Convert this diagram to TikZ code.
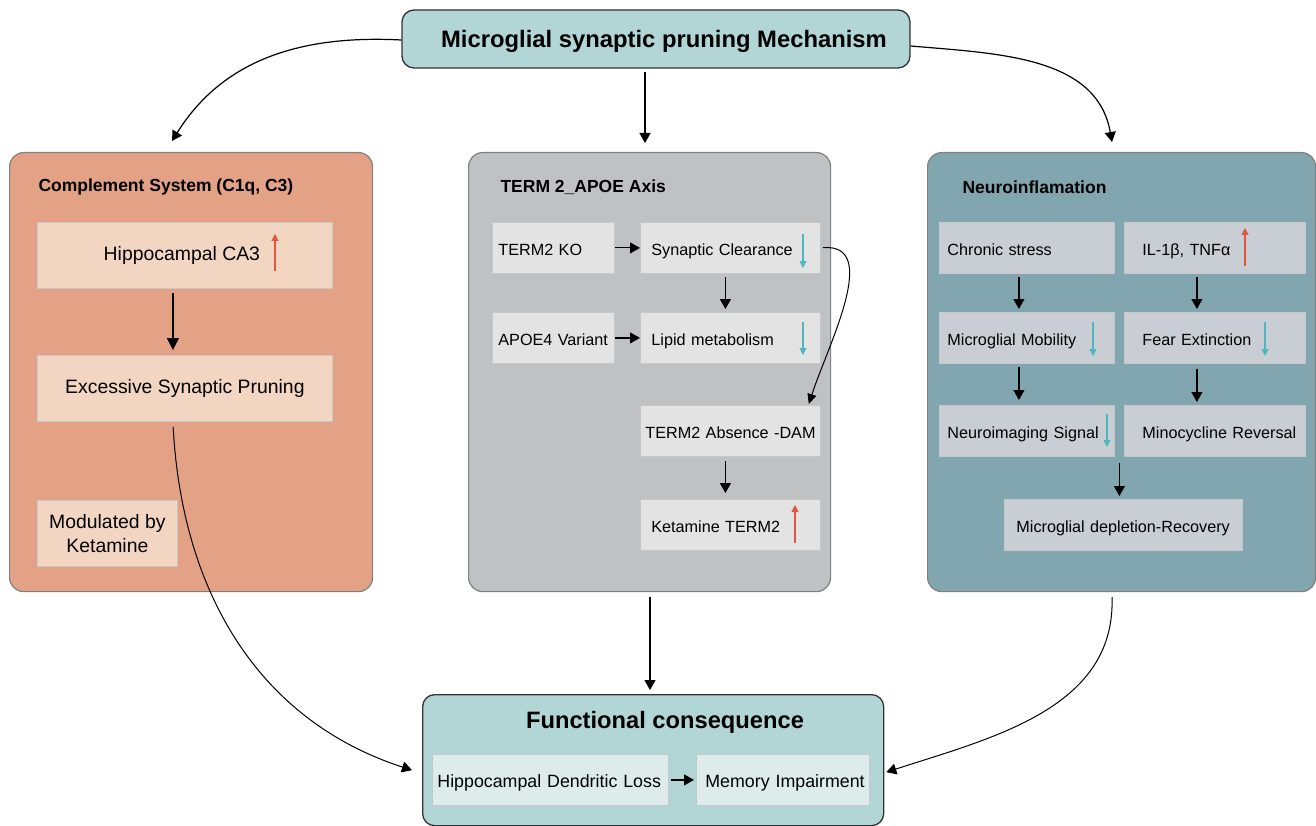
\documentclass[tikz,border=0pt]{standalone}
\usepackage{fontspec}
\setmainfont{Liberation Sans}
\usetikzlibrary{arrows.meta,calc}

\definecolor{headfill}{HTML}{B2D6D6}
\definecolor{compfill}{HTML}{E3A285}
\definecolor{compcell}{HTML}{F3D6C1}
\definecolor{axisfill}{HTML}{C0C1C3}
\definecolor{axiscell}{HTML}{E3E3E4}
\definecolor{inflfill}{HTML}{82A6AF}
\definecolor{inflcell}{HTML}{C9CED4}
\definecolor{consfill}{HTML}{B2D6D6}
\definecolor{conscell}{HTML}{DDEBEB}
\definecolor{uptick}{HTML}{E2553E}
\definecolor{downtick}{HTML}{4DB6BF}

\tikzset{
  headbox/.style={draw=black!80, line width=1.3pt, rounded corners=12pt, fill=headfill},
  panel/.style={draw=black!50, line width=1.2pt, rounded corners=14pt, anchor=north west},
  cell/.style n args={2}{draw=black!22, line width=0.8pt, anchor=north west,
    minimum height=51pt, text width=#1, inner xsep=0pt, align=left,
    text height=15pt, text depth=0pt,
    font=\fontsize{16.2}{19}\selectfont,
    execute at begin node={\hyphenpenalty=10000\exhyphenpenalty=10000\hspace*{#2}}},
  bigcell/.style={draw=black!22, line width=0.8pt, anchor=north west, fill=compcell,
    minimum height=66pt, font=\fontsize{19.4}{24}\selectfont},
  ptitle/.style={anchor=west, font=\fontsize{17.5}{20}\selectfont\bfseries},
  arr/.style={-{Triangle[width=11pt,length=10pt]}, line width=1.2pt},
  bigarr/.style={-{Triangle[width=12pt,length=12pt]}, line width=1.2pt},
  uparr/.style={-{Triangle[width=7pt,length=7pt]}, line width=1.1pt, uptick},
  dnarr/.style={-{Triangle[width=7pt,length=7pt]}, line width=1.1pt, downtick}
}

\begin{document}
\begin{tikzpicture}[x=1pt,y=-1pt]
\useasboundingbox (0,0) rectangle (1316,826);

% heading
\node[headbox, minimum width=508pt, minimum height=58pt,
  font=\fontsize{23.8}{28}\selectfont\bfseries, text depth=0pt] (mech) at (656,39)
  {\hspace*{16pt}Microglial synaptic pruning Mechanism};

% three panels
\node[panel, fill=compfill, minimum width=363pt, minimum height=439pt] (comp) at (9,152) {};
\node[panel, fill=axisfill, minimum width=362pt, minimum height=439pt] (axis) at (468,152) {};
\node[panel, fill=inflfill, minimum width=388pt, minimum height=439pt] (infl) at (927,152) {};

\node[ptitle] (comptitle) at (35,187) {Complement System (C1q, C3)};
\node[ptitle] (axistitle) at (497,187) {TERM 2\_APOE Axis};
\node[ptitle] (infltitle) at (959,187) {Neuroinflamation};

% complement system
\node[bigcell, minimum width=295pt] (ca3) at (37,222) {Hippocampal CA3\hspace*{6pt}};
\node[bigcell, minimum width=295pt] (prune) at (37,355) {Excessive Synaptic Pruning};
\node[bigcell, minimum width=140pt, align=center] (ketmod) at (37,500) {Modulated by\\Ketamine};
\draw[uparr] (275,271) -- (275,234);
\draw[bigarr, shorten <=4pt, shorten >=5pt] ([xshift=-12pt]ca3.south) -- ([xshift=-12pt]prune.north);

% TERM2 / APOE axis
\node[cell={122pt}{6pt}, fill=axiscell] (ko) at (492,222) {TERM2 KO};
\node[cell={180pt}{11pt}, fill=axiscell] (clear) at (640,222) {Synaptic Clearance};
\node[cell={122pt}{6pt}, fill=axiscell] (apoe) at (492,312) {APOE4 Variant};
\node[cell={180pt}{11pt}, fill=axiscell] (lipid) at (640,312) {Lipid metabolism};
\node[cell={180pt}{5pt}, fill=axiscell] (dam) at (640,405) {TERM2 Absence -DAM};
\node[cell={180pt}{11pt}, fill=axiscell] (ketterm) at (640,499) {Ketamine TERM2};
\draw[dnarr] (803,234) -- (803,268);
\draw[dnarr] (803,322) -- (803,355);
\draw[uparr] (795,543) -- (795,505);
\draw[arr] (ko) -- (clear);
\draw[arr] (apoe) -- (lipid);
\draw[arr, shorten <=3pt, shorten >=3pt] ([xshift=-5pt]clear.south) -- ([xshift=-5pt]lipid.north);
\draw[arr, shorten <=4pt, shorten >=6pt] ([xshift=-5pt]dam.south) -- ([xshift=-5pt]ketterm.north);
\draw[-{Triangle[width=9pt,length=10pt]}, line width=1pt, shorten <=2pt]
  (clear.east) to[out=5, in=72] ([xshift=-12pt,yshift=1pt]dam.north east);

% neuroinflammation
\node[cell={175pt}{8pt}, fill=inflcell] (stress) at (939,222) {Chronic stress};
\node[cell={181pt}{18pt}, fill=inflcell] (cyto) at (1124,222) {IL-1β, TNFα};
\node[cell={175pt}{8pt}, fill=inflcell] (mobil) at (939,312) {Microglial Mobility};
\node[cell={181pt}{18pt}, fill=inflcell] (fear) at (1124,312) {Fear Extinction};
\node[cell={175pt}{8pt}, fill=inflcell] (imaging) at (939,405) {Neuroimaging Signal};
\node[cell={181pt}{18pt}, fill=inflcell] (mino) at (1124,405) {Minocycline Reversal};
\node[cell={238pt}{12pt}, fill=inflcell] (deplet) at (1004,499) {Microglial depletion-Recovery};
\draw[uparr] (1245,266) -- (1245,228);
\draw[dnarr] (1093,322) -- (1093,356);
\draw[dnarr] (1265,322) -- (1265,356);
\draw[dnarr] (1107,414) -- (1107,447);
\draw[arr, shorten <=3pt, shorten >=3pt] ([xshift=-8pt]stress.south) -- ([xshift=-8pt]mobil.north);
\draw[arr, shorten <=3pt, shorten >=3pt] ([xshift=-18pt]cyto.south) -- ([xshift=-18pt]fear.north);
\draw[arr, shorten <=3pt, shorten >=5pt] ([xshift=-8pt]mobil.south) -- ([xshift=-8pt]imaging.north);
\draw[arr, shorten <=5pt, shorten >=3pt] ([xshift=-18pt]fear.south) -- ([xshift=-18pt]mino.north);
\draw[arr, shorten <=6pt, shorten >=3pt] ([xshift=-4pt]deplet.north |- imaging.south) -- ([xshift=-4pt]deplet.north);

% functional consequence
\node[headbox, fill=consfill, anchor=north west, minimum width=461pt, minimum height=131pt] (cons) at (422,694) {};
\node[font=\fontsize{23.7}{28}\selectfont\bfseries] (constitle) at (665,722) {Functional consequence};
\node[cell={236pt}{5pt}, fill=conscell, font=\fontsize{17.8}{21}\selectfont] (dendr) at (432,754) {Hippocampal Dendritic Loss};
\node[cell={173pt}{9pt}, fill=conscell, font=\fontsize{17.8}{21}\selectfont] (memory) at (696,754) {Memory Impairment};
\draw[arr, shorten <=2pt, shorten >=2pt] (dendr) -- (memory);

% links between panels
\coordinate (compin) at (172,141);
\coordinate (axisin) at (645,143);
\coordinate (inflin) at (1112,142);
\coordinate (axisout) at (650,597);
\coordinate (inflout) at (1112,597);
\coordinate (consin) at (650,690);
\draw[arr] ([yshift=-1pt]mech.west) to[out=177, in=58] (compin);
\draw[arr] (645,72) -- (axisin);
\draw[arr] ([yshift=-7pt]mech.east) to[out=-5, in=100] (inflin);
\draw[arr] (axisout) -- (consin);
\draw[arr, line width=1pt, shorten <=5pt] ([xshift=-12pt]prune.south) to[out=-87, in=162] ([xshift=-10pt,yshift=-10pt]cons.west);
\draw[arr, line width=1pt] (inflout) to[out=-88, in=18] ([xshift=2pt,yshift=-12pt]cons.east);
\end{tikzpicture}
\end{document}
